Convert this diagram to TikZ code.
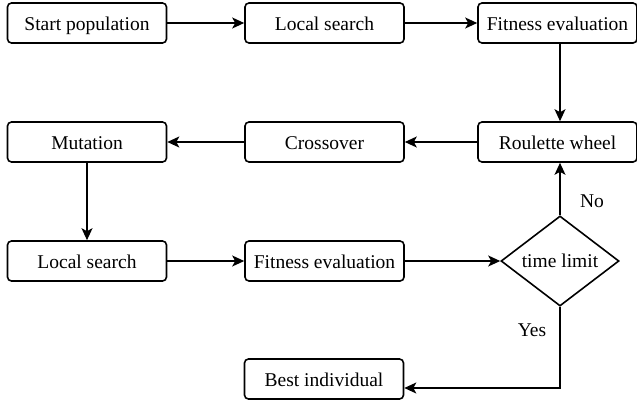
\documentclass[tikz,border=0pt]{standalone}
\usepackage{fontspec}
\setmainfont{LiberationSerif}[Extension=.ttf,UprightFont=*-Regular,BoldFont=*-Bold]
\usetikzlibrary{arrows.meta,shapes.geometric}
\begin{document}
\begin{tikzpicture}[x=1pt,y=-1pt,
  box/.style={draw,line width=1.6pt,rounded corners=4pt,minimum width=159pt,minimum height=40pt,inner sep=0pt,text height=15.5pt,text depth=0.5pt,font=\fontsize{19.5}{22}\selectfont},
  dec/.style={draw,line width=1.6pt,diamond,minimum width=118pt,minimum height=77pt,inner sep=0pt,font=\fontsize{19.5}{22}\selectfont},
  arr/.style={line width=1.6pt,-{Stealth[length=12pt,width=11pt,inset=3pt]}},
  lbl/.style={font=\fontsize{19.5}{22}\selectfont}]
\useasboundingbox (0,0) rectangle (637,402);
\node[box] (start) at (87,23) {Start population};
\node[box] (ls1) at (324.5,23) {Local search};
\node[box] (fe1) at (557.5,23) {Fitness evaluation};
\node[box] (mut) at (87,142) {Mutation};
\node[box] (cro) at (324.5,142) {Crossover};
\node[box] (rou) at (557.5,142) {Roulette wheel};
\node[box] (ls2) at (87,261) {Local search};
\node[box] (fe2) at (324.5,261) {Fitness evaluation};
\node[dec] (tl) at (560,261) {time limit};
\node[box] (best) at (324,379) {Best individual};
\coordinate (corner) at (560,388);
\draw[arr] (start) -- (ls1);
\draw[arr] (ls1) -- (fe1);
\draw[arr] (fe1.south -| tl) -- (rou.north -| tl);
\draw[arr] (rou) -- (cro);
\draw[arr] (cro) -- (mut);
\draw[arr] (mut) -- (ls2);
\draw[arr] (ls2) -- (fe2);
\draw[arr] (fe2) -- (tl);
\draw[arr] (tl.north) -- (rou.south -| tl);
\draw[arr] (tl.south) -- (corner) -- (best.east |- corner);
\node[lbl] (no) at (592,201) {No};
\node[lbl] (yes) at (532,330) {Yes};
\end{tikzpicture}
\end{document}
